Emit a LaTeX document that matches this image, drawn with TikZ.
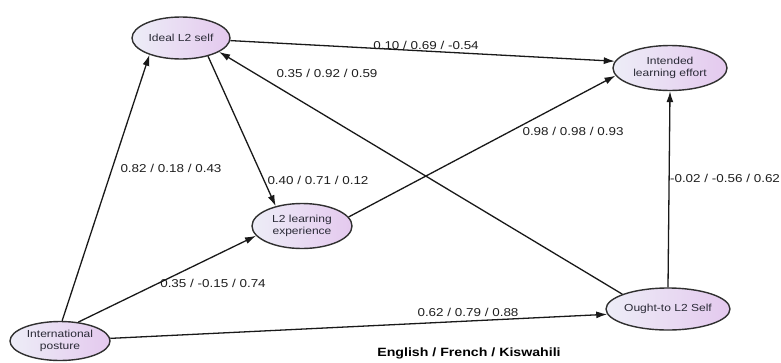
\documentclass[tikz,border=0pt]{standalone}
\usepackage{fontspec}
\setmainfont{Liberation Sans}[FakeStretch=1.18]
\usetikzlibrary{shapes.geometric,arrows.meta}
\definecolor{ellL}{HTML}{EDEDF7}
\definecolor{ellR}{HTML}{E4C9EE}
\definecolor{bord}{HTML}{303030}
\definecolor{txt}{HTML}{2A2A36}
\tikzset{
  latent/.style={ellipse, draw=bord, line width=1.4pt, left color=ellL, right color=ellR,
    inner sep=0pt, align=center, text=txt, font=\fontsize{10.2}{11.5}\selectfont},
  path/.style={line width=1.3pt, draw=black!90, -{Latex[length=11pt,width=7pt]}},
  coef/.style={text=black!88, font=\fontsize{11.4}{13}\selectfont, inner sep=0pt}
}
\begin{document}
\begin{tikzpicture}[x=1pt,y=-1pt]
\useasboundingbox (0,0) rectangle (781,362);
\fill[white] (0,0) rectangle (781,362);
\node[latent, minimum width=98pt, minimum height=42pt] (ideal) at (181,38) {Ideal L2 self};
\node[latent, minimum width=114pt, minimum height=45pt] (intended) at (670,68) {Intended\\learning effort};
\node[latent, minimum width=100pt, minimum height=45pt] (exp) at (302,226) {L2 learning\\experience};
\node[latent, minimum width=100pt, minimum height=39pt] (intl) at (60,341) {International\\posture};
\node[latent, minimum width=98pt, minimum height=42pt] (ought) at (668,309) {Ought-to L2 Self};

\draw[path] (intl.84) -- (ideal.208);
\draw[path] (intl.46) -- (exp.192);
\draw[path] (intl.3) -- (ought.185);
\draw[path] (ideal.357) -- (intended.173);
\draw[path] (ideal.326) -- (exp.143);
\draw[path] (ought.162) -- (ideal.340);
\draw[path] (exp.11) -- (intended.188);
\draw[path] (ought.90) -- (intended.270);

\node[coef] (c1) at (426,45) {0.10 / 0.69 / -0.54};
\node[coef] (c2) at (327,73) {0.35 / 0.92 / 0.59};
\node[coef] (c3) at (573,131) {0.98 / 0.98 / 0.93};
\node[coef] (c4) at (171,168) {0.82 / 0.18 / 0.43};
\node[coef] (c5) at (318,180) {0.40 / 0.71 / 0.12};
\node[coef] (c6) at (213,283) {0.35 / -0.15 / 0.74};
\node[coef] (c7) at (468,312) {0.62 / 0.79 / 0.88};
\node[coef] (c8) at (725,178) {-0.02 / -0.56 / 0.62};
\node[inner sep=0pt, font=\bfseries\fontsize{12}{14}\selectfont] (title) at (469,353) {English / French / Kiswahili};
\end{tikzpicture}
\end{document}
